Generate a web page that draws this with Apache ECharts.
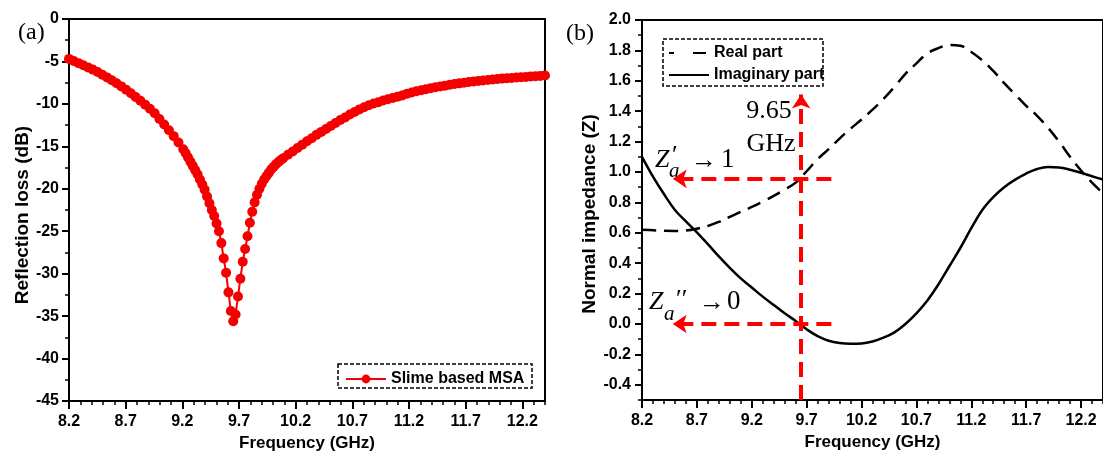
<!DOCTYPE html>
<html>
<head>
<meta charset="utf-8">
<script src="https://cdn.jsdelivr.net/npm/echarts@6/dist/echarts.min.js"></script>
<style>
html, body { margin: 0; padding: 0; background: #fff; }
#main { width: 1103px; height: 457px; }
</style>
</head>
<body>
<div id="main"></div>
<script>
// (a) reflection loss of the slime based MSA
var freqA = [
  8.2, 8.242, 8.284, 8.326, 8.368, 8.41, 8.452, 8.494, 8.536, 8.578,
  8.62, 8.662, 8.704, 8.746, 8.788, 8.83, 8.872, 8.914, 8.956, 8.998,
  9.04, 9.082, 9.124, 9.166, 9.208,
  9.229, 9.25, 9.271, 9.292, 9.313, 9.334, 9.355, 9.376, 9.397, 9.418,
  9.439, 9.46, 9.481, 9.502, 9.523, 9.544, 9.565, 9.586, 9.607, 9.628,
  9.649, 9.67, 9.691, 9.712, 9.733, 9.754, 9.775, 9.796, 9.817, 9.838,
  9.859, 9.88, 9.901, 9.922, 9.943, 9.964, 9.985, 10.006, 10.027, 10.048,
  10.069, 10.09,
  10.132, 10.174, 10.216, 10.258, 10.3, 10.342, 10.384, 10.426, 10.468, 10.51,
  10.552, 10.594, 10.636, 10.678, 10.72, 10.762, 10.804, 10.846, 10.888, 10.93,
  10.972, 11.014, 11.056, 11.098, 11.14, 11.182, 11.224, 11.266, 11.308, 11.35,
  11.392, 11.434, 11.476, 11.518, 11.56, 11.602, 11.644, 11.686, 11.728, 11.77,
  11.812, 11.854, 11.896, 11.938, 11.98, 12.022, 12.064, 12.106, 12.148, 12.19,
  12.232, 12.274, 12.316, 12.358, 12.4
];
var lossA = [
  -4.70, -4.95, -5.20, -5.45, -5.70, -5.96, -6.25, -6.56, -6.88, -7.22,
  -7.57, -7.94, -8.34, -8.75, -9.18, -9.63, -10.09, -10.57, -11.10, -11.77,
  -12.42, -13.10, -13.80, -14.55, -15.35,
  -15.8, -16.3, -16.8, -17.3, -17.8, -18.3, -18.9, -19.5, -20.1, -20.9,
  -21.7, -22.5, -23.2, -24.1, -25.0, -26.4, -28.2, -29.9, -32.2, -34.4,
  -35.6, -34.8, -32.7, -30.6, -28.6, -27.1, -25.6, -24.0, -22.7, -21.6,
  -20.7, -20.0, -19.4, -18.9, -18.5, -18.1, -17.7, -17.4, -17.1, -16.85,
  -16.6, -16.4,
  -16.0, -15.6, -15.2, -14.8, -14.4, -14.05, -13.65, -13.3, -12.95, -12.6,
  -12.25, -11.9, -11.6, -11.25, -10.95, -10.65, -10.4, -10.15, -9.95, -9.8,
  -9.6, -9.45, -9.3, -9.15, -9.0, -8.8, -8.65, -8.5, -8.4, -8.28,
  -8.15, -8.05, -7.95, -7.85, -7.75, -7.66, -7.58, -7.5, -7.43, -7.36,
  -7.3, -7.24, -7.18, -7.12, -7.07, -7.02, -6.98, -6.94, -6.9, -6.86,
  -6.82, -6.78, -6.74, -6.7, -6.66
];

// (b) normal impedance, real and imaginary part
var freqB = [
  8.2, 8.3, 8.4, 8.5, 8.6, 8.7, 8.8, 8.9, 9.0, 9.1,
  9.2, 9.3, 9.4, 9.5, 9.6, 9.7, 9.8, 9.9, 10.0, 10.1,
  10.2, 10.3, 10.4, 10.5, 10.6, 10.7, 10.8, 10.9, 11.0, 11.1,
  11.2, 11.3, 11.4, 11.5, 11.6, 11.7, 11.8, 11.9, 12.0, 12.1,
  12.2, 12.3, 12.4
];
var realB = [
  0.62, 0.617, 0.613, 0.612, 0.615, 0.627, 0.645, 0.672, 0.705, 0.738,
  0.77, 0.805, 0.843, 0.885, 0.93, 1.005, 1.085, 1.15, 1.22, 1.285,
  1.345, 1.41, 1.48, 1.56, 1.645, 1.715, 1.78, 1.815, 1.835, 1.83,
  1.79, 1.735, 1.665, 1.585, 1.51, 1.435, 1.37, 1.29, 1.2, 1.10,
  1.01, 0.93, 0.86
];
var imagB = [
  1.10, 0.97, 0.855, 0.75, 0.675, 0.603, 0.525, 0.445, 0.37, 0.30,
  0.24, 0.18, 0.125, 0.07, 0.02, -0.035, -0.08, -0.11, -0.125, -0.13,
  -0.128, -0.115, -0.09, -0.055, 0.0, 0.07, 0.155, 0.26, 0.38, 0.50,
  0.63, 0.75, 0.835, 0.90, 0.95, 0.99, 1.02, 1.033, 1.03, 1.015,
  0.995, 0.972, 0.95
];

// tick labels
var freqTicks = [8.2, 8.7, 9.2, 9.7, 10.2, 10.7, 11.2, 11.7, 12.2];
var zTicks = [-0.4, -0.2, 0.0, 0.2, 0.4, 0.6, 0.8, 1.0, 1.2, 1.4, 1.6, 1.8, 2.0];

// matching point guides in (b)
var matchFreq = 9.65;
var matchReal = 0.955;
var matchImag = 0.0;
var guideRight = 9.925;
var guideLeft = 8.48;
var guideTop = 1.51;

var sans = 'Liberation Sans';
var serif = 'Liberation Serif';

function pairs(xs, ys) {
  return xs.map(function (x, i) { return [x, ys[i]]; });
}

function freqAxis(grid) {
  return {
    type: 'value', gridIndex: grid, position: 'bottom', min: 8.2, max: 12.4,
    axisLine: { onZero: false, lineStyle: { color: '#000', width: 2 } },
    axisTick: { customValues: freqTicks, length: 8, lineStyle: { color: '#000', width: 2 } },
    axisLabel: {
      customValues: freqTicks, margin: 13, color: '#000', fontFamily: sans,
      fontWeight: 'bold', fontSize: 16,
      formatter: function (v) { return v.toFixed(1); }
    },
    splitLine: { show: false },
    name: 'Frequency (GHz)', nameLocation: 'middle', nameGap: 34,
    nameTextStyle: { color: '#000', fontFamily: sans, fontWeight: 'bold', fontSize: 17 }
  };
}
function minorAxis(grid, pos, min, max, step) {
  return {
    type: 'value', gridIndex: grid, position: pos, min: min, max: max, interval: step,
    axisLine: { show: false, onZero: false },
    axisTick: { length: 4, lineStyle: { color: '#000', width: 1.5 } },
    axisLabel: { show: false }, splitLine: { show: false }
  };
}

var myChart = echarts.init(document.getElementById('main'));

var option = {
  animation: false,
  backgroundColor: '#fff',
  grid: [
    { left: 69, top: 19, width: 476, height: 383, show: true, borderColor: '#000', borderWidth: 2 },
    { left: 642, top: 20, width: 466, height: 380, show: true, borderColor: '#000', borderWidth: 2 }
  ],
  xAxis: [
    freqAxis(0), minorAxis(0, 'bottom', 8.2, 12.4, 0.1),
    freqAxis(1), minorAxis(1, 'bottom', 8.2, 12.4, 0.1)
  ],
  yAxis: [
    {
      type: 'value', gridIndex: 0, position: 'left', min: -45, max: 0, interval: 5,
      axisLine: { onZero: false, lineStyle: { color: '#000', width: 2 } },
      axisTick: { length: 7, lineStyle: { color: '#000', width: 2 } },
      axisLabel: { margin: 10, color: '#000', fontFamily: sans, fontWeight: 'bold', fontSize: 16 },
      splitLine: { show: false },
      name: 'Reflection loss (dB)', nameLocation: 'middle', nameGap: 35,
      nameTextStyle: { color: '#000', fontFamily: sans, fontWeight: 'bold', fontSize: 19, padding: [0, 10, 0, 0] }
    },
    minorAxis(0, 'left', -45, 0, 2.5),
    {
      type: 'value', gridIndex: 1, position: 'left', min: -0.5, max: 2.0,
      axisLine: { onZero: false, lineStyle: { color: '#000', width: 2 } },
      axisTick: { customValues: zTicks, length: 7, lineStyle: { color: '#000', width: 2 } },
      axisLabel: {
        customValues: zTicks, margin: 11, color: '#000', fontFamily: sans,
        fontWeight: 'bold', fontSize: 16,
        formatter: function (v) { return v.toFixed(1); }
      },
      splitLine: { show: false },
      name: 'Normal impedance (Z)', nameLocation: 'middle', nameGap: 40,
      nameTextStyle: { color: '#000', fontFamily: sans, fontWeight: 'bold', fontSize: 19, padding: [0, 8, 0, 0] }
    },
    minorAxis(1, 'left', -0.5, 2.0, 0.1)
  ],
  legend: [
    {
      data: ['Slime based MSA'], left: 340, top: 366,
      itemWidth: 40, itemHeight: 11, selectedMode: false,
      textStyle: { color: '#000', fontFamily: sans, fontWeight: 'bold', fontSize: 16 }
    },
    {
      data: [
        { name: 'Real part', lineStyle: { type: [5, 19, 13, 10] } },
        { name: 'Imaginary part' }
      ],
      left: 663, top: 40, orient: 'vertical',
      itemWidth: 40, itemHeight: 14, itemGap: 6, selectedMode: false,
      itemStyle: { color: 'rgba(0,0,0,0)', borderWidth: 0, opacity: 0 },
      textStyle: { color: '#000', fontFamily: sans, fontWeight: 'bold', fontSize: 16 }
    }
  ],
  series: [
    {
      name: 'Slime based MSA', type: 'line', xAxisIndex: 0, yAxisIndex: 0,
      data: pairs(freqA, lossA),
      symbol: 'circle', symbolSize: 10, showAllSymbol: true,
      itemStyle: { color: '#f40000' },
      lineStyle: { color: '#f40000', width: 2 }
    },
    {
      name: 'Real part', type: 'line', xAxisIndex: 2, yAxisIndex: 2,
      data: pairs(freqB, realB), smooth: 0.4, showSymbol: false, symbol: 'none',
      itemStyle: { color: '#000' },
      lineStyle: { color: '#000', width: 2.5, type: [14, 8] }
    },
    {
      name: 'Imaginary part', type: 'line', xAxisIndex: 2, yAxisIndex: 2,
      data: pairs(freqB, imagB), smooth: 0.4, showSymbol: false, symbol: 'none',
      itemStyle: { color: '#000' },
      lineStyle: { color: '#000', width: 2.5 },
      markLine: {
        silent: true, symbol: ['none', 'arrow'], symbolSize: 14,
        label: { show: false },
        lineStyle: { color: '#ff0000', width: 4, type: [15, 8] },
        emphasis: { disabled: true },
        data: [
          [{ coord: [matchFreq, -0.5] }, { coord: [matchFreq, guideTop] }],
          [{ coord: [guideRight, matchReal] }, { coord: [guideLeft, matchReal] }],
          [{ coord: [guideRight, matchImag] }, { coord: [guideLeft, matchImag] }]
        ]
      }
    }
  ],
  graphic: [
    { type: 'rect', silent: true, shape: { x: 338, y: 364, width: 194, height: 24 },
      style: { fill: 'none', stroke: '#000', lineWidth: 1.5, lineDash: [4, 2] } },
    { type: 'rect', silent: true, shape: { x: 663, y: 39, width: 160, height: 47 },
      style: { fill: 'none', stroke: '#000', lineWidth: 1.5, lineDash: [4, 2] } },
    { type: 'text', style: { text: '(a)', x: 18, y: 33, fontFamily: serif, fontSize: 24, fill: '#000', verticalAlign: 'middle' } },
    { type: 'text', style: { text: '(b)', x: 566, y: 34, fontFamily: serif, fontSize: 24, fill: '#000', verticalAlign: 'middle' } },
    { type: 'text', style: { text: '9.65', x: 769, y: 111, fontFamily: serif, fontSize: 26, fill: '#000', align: 'center', verticalAlign: 'middle' } },
    { type: 'text', style: { text: 'GHz', x: 771, y: 144, fontFamily: serif, fontSize: 26, fill: '#000', align: 'center', verticalAlign: 'middle' } },
    // Z'_a -> 1
    { type: 'text', style: { text: 'Z', x: 655, y: 160, fontFamily: serif, fontStyle: 'italic', fontSize: 26, fill: '#000', verticalAlign: 'middle' } },
    { type: 'text', style: { text: '\u2032', x: 672, y: 156, fontFamily: serif, fontSize: 26, fill: '#000', verticalAlign: 'middle' } },
    { type: 'text', style: { text: 'a', x: 669, y: 171, fontFamily: serif, fontStyle: 'italic', fontSize: 21, fill: '#000', verticalAlign: 'middle' } },
    { type: 'text', style: { text: '\u2192', x: 691, y: 161, fontFamily: serif, fontSize: 26, fill: '#000', verticalAlign: 'middle' } },
    { type: 'text', style: { text: '1', x: 721, y: 160, fontFamily: serif, fontSize: 27, fill: '#000', verticalAlign: 'middle' } },
    // Z_a'' -> 0
    { type: 'text', style: { text: 'Z', x: 649, y: 302, fontFamily: serif, fontStyle: 'italic', fontSize: 26, fill: '#000', verticalAlign: 'middle' } },
    { type: 'text', style: { text: 'a', x: 664, y: 314, fontFamily: serif, fontStyle: 'italic', fontSize: 21, fill: '#000', verticalAlign: 'middle' } },
    { type: 'text', style: { text: '\u2032\u2032', x: 676, y: 300, fontFamily: serif, fontSize: 26, fill: '#000', verticalAlign: 'middle' } },
    { type: 'text', style: { text: '\u2192', x: 699, y: 303, fontFamily: serif, fontSize: 26, fill: '#000', verticalAlign: 'middle' } },
    { type: 'text', style: { text: '0', x: 727, y: 302, fontFamily: serif, fontSize: 27, fill: '#000', verticalAlign: 'middle' } }
  ]
};

myChart.setOption(option, true);
window.addEventListener('resize', function () {
  myChart.resize();
});
</script>
</body>
</html>
